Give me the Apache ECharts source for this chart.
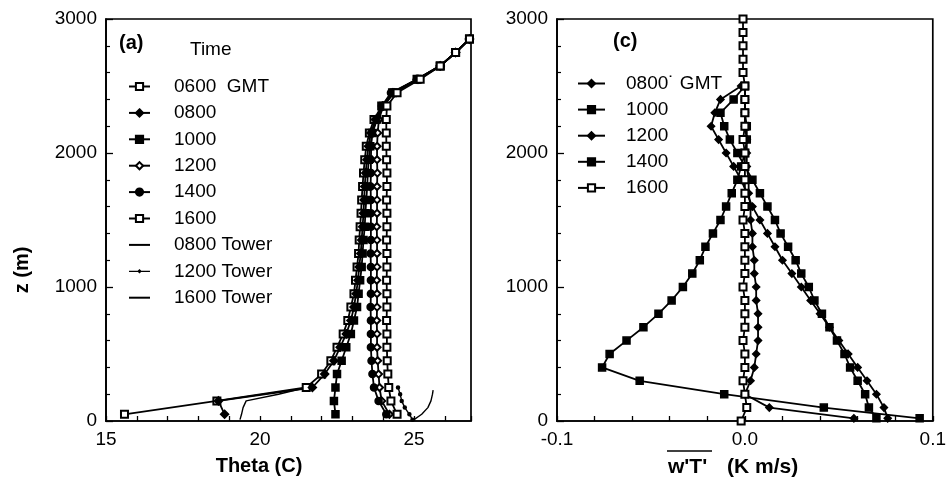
<!DOCTYPE html>
<html>
<head>
<meta charset="utf-8">
<script src="https://cdn.jsdelivr.net/npm/echarts@6/dist/echarts.min.js"></script>
<style>
  html, body { margin: 0; padding: 0; background: #fff; }
  #chart { width: 949px; height: 488px; }
</style>
</head>
<body>
<div id="chart"></div>
<script>
// ---------- Panel (a): potential temperature profiles (C) ----------
const zModel = [50, 150, 250, 350, 450, 550, 650, 750, 850, 950,
  1050, 1150, 1250, 1350, 1450, 1550, 1650, 1750, 1850, 1950,
  2050, 2150, 2250, 2350, 2450, 2550, 2650, 2750, 2850, 2950];

const theta0600 = [15.6, 18.6, 21.5, 22.0, 22.3, 22.5, 22.7, 22.85, 22.95, 23.05,
  23.1, 23.15, 23.2, 23.22, 23.25, 23.28, 23.3, 23.33, 23.36, 23.4,
  23.45, 23.55, 23.7, 23.95, 24.3, 25.1, 25.85, 26.35, 26.8, 27.3];
const theta0800 = [18.85, 18.65, 21.7, 22.1, 22.4, 22.6, 22.8, 22.95, 23.05, 23.12,
  23.18, 23.22, 23.27, 23.3, 23.33, 23.36, 23.38, 23.4, 23.43, 23.47,
  23.52, 23.6, 23.75, 23.98, 24.3, 25.1, 25.85, 26.35, 26.8, 27.3];
const theta1000 = [22.45, 22.4, 22.45, 22.5, 22.65, 22.8, 22.95, 23.05, 23.15, 23.2,
  23.25, 23.3, 23.33, 23.36, 23.4, 23.42, 23.45, 23.48, 23.5, 23.53,
  23.58, 23.65, 23.8, 24.0, 24.35, 25.1, 25.85, 26.35, 26.8, 27.3];
const theta1200 = [24.2, 23.95, 23.88, 23.85, 23.82, 23.8, 23.8, 23.79, 23.8, 23.8,
  23.79, 23.8, 23.8, 23.8, 23.79, 23.8, 23.8, 23.8, 23.81, 23.8,
  23.8, 23.82, 23.86, 24.0, 24.35, 25.15, 25.85, 26.35, 26.8, 27.3];
const theta1400 = [24.1, 23.85, 23.7, 23.65, 23.62, 23.6, 23.6, 23.6, 23.59, 23.6,
  23.6, 23.6, 23.59, 23.6, 23.6, 23.6, 23.6, 23.59, 23.6, 23.6,
  23.61, 23.64, 23.78, 23.96, 24.25, 25.1, 25.85, 26.35, 26.8, 27.3];
const theta1600 = [24.45, 24.25, 24.18, 24.15, 24.13, 24.12, 24.12, 24.11, 24.12, 24.12,
  24.11, 24.12, 24.12, 24.11, 24.12, 24.12, 24.11, 24.12, 24.12, 24.11,
  24.1, 24.1, 24.1, 24.12, 24.45, 25.2, 25.85, 26.35, 26.8, 27.3];

// tower soundings near the surface
const zTower0800 = [10, 50, 100, 150, 200, 250];
const tower0800 = [19.35, 19.4, 19.45, 19.55, 20.6, 21.5];
const zTower1200 = [10, 50, 100, 150, 200, 250];
const tower1200 = [24.95, 24.85, 24.7, 24.6, 24.55, 24.48];
const zTower1600 = [10, 50, 100, 150, 200, 230];
const tower1600 = [25.0, 25.25, 25.45, 25.55, 25.6, 25.62];

// ---------- Panel (c): kinematic heat flux w'T' (K m/s) ----------
const zFlux = [20, 100, 200, 300, 400, 500, 600, 700, 800, 900,
  1000, 1100, 1200, 1300, 1400, 1500, 1600, 1700, 1800, 1900,
  2000, 2100, 2200, 2300, 2400, 2500];
const flux0800 = [0.058, 0.013, 0.000, 0.003, 0.005, 0.006, 0.007, 0.007, 0.007, 0.006,
  0.006, 0.005, 0.005, 0.004, 0.004, 0.003, 0.003, 0.002, 0.002, 0.001,
  0.001, 0.001, 0.000, 0.000, 0.000, 0.000];
const flux1000 = [0.093, 0.042, -0.011, -0.056, -0.076, -0.072, -0.063, -0.054, -0.046, -0.039,
  -0.033, -0.028, -0.024, -0.021, -0.017, -0.013, -0.010, -0.007, -0.004, -0.002,
  0.000, 0.001, 0.001, 0.000, 0.000, 0.000];
const flux1200 = [0.076, 0.074, 0.070, 0.065, 0.060, 0.055, 0.050, 0.045, 0.040, 0.035,
  0.030, 0.025, 0.020, 0.016, 0.012, 0.008, 0.004, 0.001, -0.002, -0.006,
  -0.010, -0.014, -0.018, -0.016, -0.013, -0.002];
const flux1400 = [0.070, 0.066, 0.064, 0.060, 0.056, 0.053, 0.049, 0.045, 0.041, 0.037,
  0.034, 0.030, 0.027, 0.023, 0.019, 0.016, 0.012, 0.008, 0.004, 0.000,
  -0.004, -0.008, -0.011, -0.013, -0.006, 0.000];
const zFlux1600 = [0, 100, 200, 300, 400, 500, 600, 700, 800, 900,
  1000, 1100, 1200, 1300, 1400, 1500, 1600, 1700, 1800, 1900,
  2000, 2100, 2200, 2300, 2400, 2500, 2600, 2700, 2800, 2900, 3000];
const flux1600 = [-0.002, 0.001, 0.000, -0.001, 0.000, 0.000, -0.001, 0.000, 0.000, 0.000,
  -0.001, 0.000, 0.000, 0.000, 0.000, -0.001, 0.000, 0.000, 0.000, 0.000,
  0.000, -0.001, 0.000, 0.000, 0.000, 0.000, -0.001, -0.001, -0.001, -0.001, -0.001];

// axis tick values
const zTicks = [0, 1000, 2000, 3000];
const thetaLabels = [15, 20, 25];
const fluxLabels = [-0.1, 0.0, 0.1];

const FONT = '"Liberation Sans", Arial, Helvetica, sans-serif';
const INK = '#000';
const CLEAR = 'rgba(0,0,0,0)';
// legend key for the dotted tower line: a thin bar with a small mark in the middle
const DOT_LINE = 'path://M0,0h0.01v0.01h-0.01z M0,3.9h21v1.2h-21z M10.5,2.2L12.8,4.5L10.5,6.8L8.2,4.5z M21,9h0.01v0.01h-0.01z';

function pairs(xs, zs) { return xs.map((x, i) => [x, zs[i]]); }

function profile(name, xs, zs, axis, symbol, size, width) {
  const plain = symbol === 'none';
  return {
    name: name,
    type: 'line',
    xAxisIndex: axis, yAxisIndex: axis,
    data: pairs(xs, zs),
    symbol: plain ? 'circle' : symbol,
    symbolSize: plain ? 0 : size,
    showSymbol: !plain,
    lineStyle: { color: INK, width: width || 1.8 },
    itemStyle: plain
      ? { color: CLEAR, borderColor: CLEAR, borderWidth: 0 }
      : { color: INK, borderColor: INK, borderWidth: 1.5 },
    emphasis: { disabled: true },
    animation: false,
    z: 3
  };
}

const seriesA = [
  profile('a|0600  GMT', theta0600, zModel, 0, 'emptyRect', 7),
  profile('a|0800', theta0800, zModel, 0, 'diamond', 8),
  profile('a|1000', theta1000, zModel, 0, 'rect', 7),
  profile('a|1200', theta1200, zModel, 0, 'emptyDiamond', 7),
  profile('a|1400', theta1400, zModel, 0, 'circle', 7),
  profile('a|1600', theta1600, zModel, 0, 'emptyRect', 7),
  profile('a|0800 Tower', tower0800, zTower0800, 0, 'none', 0, 1.4),
  profile('a|1200 Tower', tower1200, zTower1200, 0, 'circle', 3, 1.4),
  profile('a|1600 Tower', tower1600, zTower1600, 0, 'none', 0, 1.4)
];
const seriesC = [
  profile('c|0800\u02D9 GMT', flux0800, zFlux, 1, 'diamond', 7),
  profile('c|1000', flux1000, zFlux, 1, 'rect', 7),
  profile('c|1200', flux1200, zFlux, 1, 'diamond', 7),
  profile('c|1400', flux1400, zFlux, 1, 'rect', 7),
  profile('c|1600', flux1600, zFlux1600, 1, 'emptyRect', 7)
];

const near = (v, list) => list.some(t => Math.abs(v - t) < 1e-6);

function xAxisCfg(gridIndex, min, max, interval, labels, fmt) {
  return {
    type: 'value', gridIndex, min, max, interval,
    axisLine: { show: true, onZero: false, lineStyle: { color: INK, width: 1.7 } },
    axisTick: { show: true, inside: true, length: 5, lineStyle: { color: INK, width: 1.3 } },
    splitLine: { show: false },
    axisLabel: {
      color: INK, fontSize: 19, fontFamily: FONT, margin: 9,
      formatter: v => near(v, labels) ? fmt(v) : ''
    }
  };
}
function yAxisCfg(gridIndex) {
  return {
    type: 'value', gridIndex, min: 0, max: 3000, interval: 1000,
    axisLine: { show: true, onZero: false, lineStyle: { color: INK, width: 1.7 } },
    axisTick: { show: true, inside: true, length: 7, lineStyle: { color: INK, width: 1.3 } },
    minorTick: { show: true, splitNumber: 5, length: 4, lineStyle: { color: INK, width: 1.2 } },
    splitLine: { show: false },
    axisLabel: {
      color: INK, fontSize: 19, fontFamily: FONT, margin: 9,
      formatter: v => near(v, zTicks) ? String(v) : ''
    }
  };
}

function legendCfg(items, left, top, gap, width, pad) {
  return {
    orient: 'vertical', left, top,
    data: items, selectedMode: false,
    itemWidth: width, itemHeight: 9, itemGap: gap,
    formatter: n => n.split('|')[1],
    textStyle: { color: INK, fontSize: 19, fontFamily: FONT, padding: [0, 0, 0, pad] }
  };
}

const legendItemsA = seriesA.map(s => s.name === 'a|1200 Tower'
  ? { name: s.name, icon: DOT_LINE, itemStyle: { color: INK, borderWidth: 0 } }
  : s.name);
const legendItemsC = seriesC.map(s => s.name);

const option = {
  backgroundColor: '#fff',
  animation: false,
  grid: [
    { left: 106, top: 19, width: 365, height: 402, show: true, borderColor: INK, borderWidth: 1.7, backgroundColor: 'transparent' },
    { left: 557, top: 19, width: 380, height: 402, show: true, borderColor: INK, borderWidth: 1.7, backgroundColor: 'transparent' }
  ],
  xAxis: [
    xAxisCfg(0, 15, 26.85, 1, thetaLabels, v => String(Math.round(v))),
    xAxisCfg(1, -0.1, 0.1, 0.02, fluxLabels, v => Math.abs(v) < 1e-9 ? '0.0' : v.toFixed(1))
  ],
  yAxis: [yAxisCfg(0), yAxisCfg(1)],
  legend: [
    legendCfg(legendItemsA, 123, 72, 7.4, 21, 19),
    legendCfg(legendItemsC, 572, 69, 7.1, 27, 16)
  ],
  graphic: [
    { type: 'text', left: 119, top: 33, style: { text: '(a)', font: 'bold 20px ' + FONT, fill: INK } },
    { type: 'text', left: 190, top: 40, style: { text: 'Time', font: '19px ' + FONT, fill: INK } },
    { type: 'text', left: 613, top: 31, style: { text: '(c)', font: 'bold 20px ' + FONT, fill: INK } },
    { type: 'text', x: 22, y: 270, rotation: Math.PI / 2,
      style: { text: 'z (m)', font: 'bold 20px ' + FONT, fill: INK, align: 'center', verticalAlign: 'middle' } },
    { type: 'text', x: 259, y: 466,
      style: { text: 'Theta (C)', font: 'bold 20px ' + FONT, fill: INK, align: 'center', verticalAlign: 'middle' } },
    { type: 'text', x: 668, y: 467,
      style: { text: "w'T'", font: 'bold 21px ' + FONT, fill: INK, align: 'left', verticalAlign: 'middle' } },
    { type: 'text', x: 727, y: 467,
      style: { text: '(K m/s)', font: 'bold 21px ' + FONT, fill: INK, align: 'left', verticalAlign: 'middle' } },
    { type: 'line', shape: { x1: 667, y1: 451, x2: 712, y2: 451 }, style: { stroke: INK, lineWidth: 1.6 } }
  ],
  series: seriesA.concat(seriesC)
};

const chart = echarts.init(document.getElementById('chart'), null, { renderer: 'canvas' });
chart.setOption(option);
</script>
</body>
</html>
